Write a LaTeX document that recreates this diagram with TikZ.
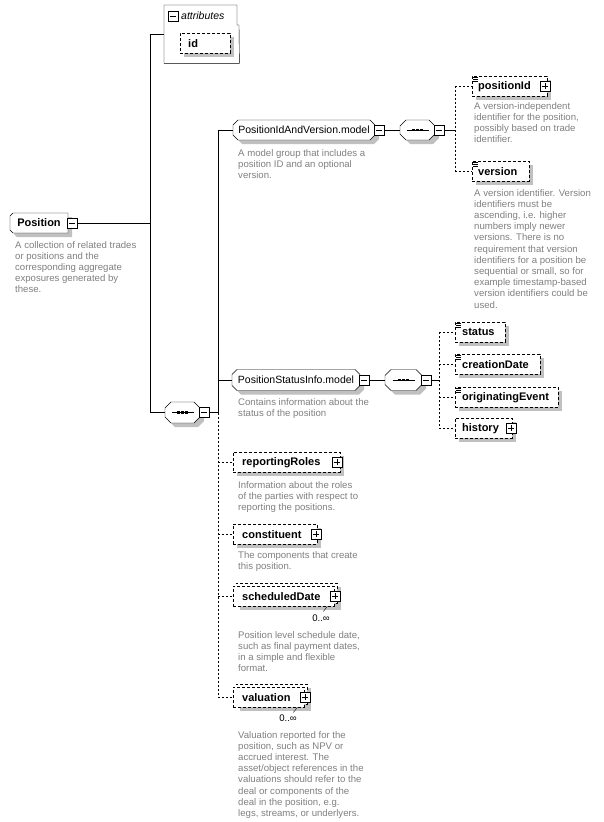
\documentclass[tikz,border=0pt]{standalone}
\usepackage{fontspec}
\setmainfont{Liberation Sans}
\definecolor{descgray}{RGB}{128,128,128}
\definecolor{shadowgray}{RGB}{192,192,192}
\newcommand{\simpicon}[1]{\foreach \k in {1,3,5}{\draw[line width=0.7pt] ([xshift=0.8pt,yshift=-\k pt]#1.north west) -- ++(5.5,0);}}
\newcommand{\octpath}[5]{(#1-#3/2+#5,#2-#4/2) -- (#1+#3/2-#5,#2-#4/2) -- (#1+#3/2,#2-#4/2+#5) -- (#1+#3/2,#2+#4/2-#5) -- (#1+#3/2-#5,#2+#4/2) -- (#1-#3/2+#5,#2+#4/2) -- (#1-#3/2,#2+#4/2-#5) -- (#1-#3/2,#2-#4/2+#5) -- cycle}
\newcommand{\octshape}[5]{\fill[shadowgray] \octpath{#1+4}{#2+4}{#3}{#4}{#5};\draw[fill=white] \octpath{#1}{#2}{#3}{#4}{#5};}
\newcommand{\eshadow}[4]{\fill[shadowgray] (#1+4,#2+4) rectangle (#1+#3+4,#2+#4+4);}
\newcommand{\seqicon}[1]{\draw[line width=0.8pt] ([xshift=-11pt]#1.center) -- ([xshift=11pt]#1.center);
  \foreach \dx in {-4,0,4}{\fill ([xshift=\dx pt]#1.center) ++(-1.3,-1.3) rectangle ++(2.6,2.6);}}
\begin{document}
\begin{tikzpicture}[x=1pt,y=-1pt,
 elem/.style={rectangle,draw,dash pattern=on 3pt off 2pt,fill=white,minimum height=20pt,inner sep=0pt,anchor=north west},
 ename/.style={font=\bfseries\fontsize{11}{13}\selectfont,inner sep=0pt,anchor=west},
 gbox/.style={rectangle,minimum height=20pt,inner sep=0pt,font=\fontsize{10.5}{13}\selectfont},
 boxb/.style={rectangle,draw,solid,fill=white,minimum size=10pt,inner sep=0pt},
 minusb/.style={boxb,path picture={\draw ([xshift=2pt]path picture bounding box.west) -- ([xshift=-2pt]path picture bounding box.east);}},
 plusb/.style={boxb,path picture={\draw ([xshift=2pt]path picture bounding box.west) -- ([xshift=-2pt]path picture bounding box.east);
   \draw ([yshift=-2pt]path picture bounding box.north) -- ([yshift=2pt]path picture bounding box.south);}},
 desc/.style={font=\fontsize{9.6}{11.2}\selectfont,text=descgray,align=left,anchor=north west,inner sep=0pt},
 dsh/.style={dash pattern=on 2pt off 2pt},
 mult/.style={font=\fontsize{9.6}{11}\selectfont,inner sep=0pt,anchor=north east}
]
\fill[white] (0,0) rectangle (603,822);
\useasboundingbox (0,0) rectangle (603,822);

% attributes
\path node[minimum width=75pt,minimum height=58pt,inner sep=0pt,anchor=north west] (attr) at (164,5) {};
\draw (attr.north west) -- ++(73,0) -- ++(0,20) -- ++(2,0) -- (attr.south east) -- (attr.south west) -- cycle;
\node[minusb] (attrm) at (173,16.5) {};
\node[font=\itshape\fontsize{10.5}{13}\selectfont,inner sep=0pt,anchor=west] (attrt) at (181,16) {attributes};
\eshadow{180}{33}{50}{20}
\node[elem,minimum width=50pt] (id) at (180,33) {};
\node[ename] (idt) at ([xshift=8pt]id.west) {id};

% Position
\fill[shadowgray] (17,217) -- (72,217) -- (72,237) -- (17,237) -- (14,234) -- (14,220) -- cycle;
\draw[fill=white] (13,213) -- (68,213) -- (68,233) -- (13,233) -- (10,230) -- (10,216) -- cycle;
\node[gbox,minimum width=58pt,font=\bfseries\fontsize{11}{13}\selectfont] (pos) at (39,223) {Position};
\node[minusb] (posm) at ([xshift=4pt]pos.east) {};
\node[desc] (posd) at (15,241) {A collection of related trades\\or positions and the\\corresponding aggregate\\exposures generated by\\these.};

% main sequence
\octshape{182.5}{412.5}{35}{21}{6}
\node[gbox,minimum width=35pt,minimum height=21pt] (mseq) at (182.5,412.5) {};
\seqicon{mseq}
\node[minusb] (mseqm) at ([xshift=4pt]mseq.east) {};

% PositionIdAndVersion.model
\octshape{304}{130}{142}{20}{5}
\node[gbox,minimum width=142pt] (piv) at (304,130) {PositionIdAndVersion.model};
\node[minusb] (pivm) at ([xshift=4pt]piv.east) {};
\node[desc] (pivd) at (238,149) {A model group that includes a\\position ID and an optional\\version.};
\octshape{417.5}{130}{35}{20}{6}
\node[gbox,minimum width=35pt] (s1) at (417.5,130) {};
\seqicon{s1}
\node[minusb] (s1m) at ([xshift=4pt]s1.east) {};

\eshadow{472}{76}{75}{20}
\node[elem,minimum width=75pt] (pid) at (472,76) {};
\node[ename] (pidt) at ([xshift=6pt]pid.west) {positionId};
\node[plusb] (pidp) at ([xshift=-2pt]pid.east) {};
\simpicon{pid}
\node[desc] (pidd) at (474,102) {A version-independent\\identifier for the position,\\possibly based on trade\\identifier.};

\eshadow{472}{161}{57}{20}
\node[elem,minimum width=57pt] (ver) at (472,161) {};
\node[ename] (vert) at ([xshift=6pt]ver.west) {version};
\simpicon{ver}
\node[desc] (verd) at (474,189) {A version identifier. Version\\identifiers must be\\ascending, i.e. higher\\numbers imply newer\\versions. There is no\\requirement that version\\identifiers for a position be\\sequential or small, so for\\example timestamp-based\\version identifiers could be\\used.};

% PositionStatusInfo.model
\octshape{296}{380}{128}{21}{5}
\node[gbox,minimum width=128pt,minimum height=21pt] (psi) at (296,380) {PositionStatusInfo.model};
\node[minusb] (psim) at ([xshift=4pt]psi.east) {};
\node[desc] (psid) at (238,398) {Contains information about the\\status of the position};
\octshape{403.5}{380}{37}{21}{6}
\node[gbox,minimum width=37pt,minimum height=21pt] (s2) at (403.5,380) {};
\seqicon{s2}
\node[minusb] (s2m) at ([xshift=4pt]s2.east) {};

\eshadow{455}{322}{50}{20}
\node[elem,minimum width=50pt] (st) at (455,322) {};
\node[ename] (stt) at ([xshift=7pt]st.west) {status};
\simpicon{st}
\eshadow{455}{354}{85}{20}
\node[elem,minimum width=85pt] (cd) at (455,354) {};
\node[ename] (cdt) at ([xshift=7pt]cd.west) {creationDate};
\simpicon{cd}
\eshadow{455}{387}{103}{20}
\node[elem,minimum width=103pt] (oe) at (455,387) {};
\node[ename] (oet) at ([xshift=7pt]oe.west) {originatingEvent};
\simpicon{oe}
\eshadow{455}{418}{57}{20}
\node[elem,minimum width=57pt] (hi) at (455,418) {};
\node[ename] (hit) at ([xshift=7pt]hi.west) {history};
\node[plusb] (hip) at ([xshift=-1pt]hi.east) {};

% other children
\eshadow{233}{452}{107}{20}
\node[elem,minimum width=107pt] (rr) at (233,452) {};
\node[ename] (rrt) at ([xshift=9pt]rr.west) {reportingRoles};
\node[plusb] (rrp) at ([xshift=-3pt]rr.east) {};
\node[desc] (rrd) at (238,481) {Information about the roles\\of the parties with respect to\\reporting the positions.};

\eshadow{233}{524}{84}{20}
\node[elem,minimum width=84pt] (co) at (233,524) {};
\node[ename] (cot) at ([xshift=9pt]co.west) {constituent};
\node[plusb] (cop) at ([xshift=-1pt]co.east) {};
\node[desc] (cod) at (238,551) {The components that create\\this position.};

\eshadow{236}{583}{101}{23}
\node[elem,minimum width=101pt] (sdb) at (236,583) {};
\node[elem,minimum width=101pt] (sd) at (233,586) {};
\node[ename] (sdt) at ([xshift=9pt]sd.west) {scheduledDate};
\node[plusb] (sdp) at ([xshift=1pt]sd.east) {};
\node[mult] (sdm) at (330,615) {0..∞};
\draw ([xshift=-7pt]sd.south east) -- ++(-4,5);
\node[desc] (sdd) at (238,631) {Position level schedule date,\\such as final payment dates,\\in a simple and flexible\\format.};

\eshadow{236}{684}{71}{23}
\node[elem,minimum width=71pt] (vab) at (236,684) {};
\node[elem,minimum width=71pt] (va) at (233,687) {};
\node[ename] (vat) at ([xshift=9pt]va.west) {valuation};
\node[plusb] (vap) at ([xshift=1pt]va.east) {};
\node[mult] (vam) at (297,715) {0..∞};
\draw ([xshift=-7pt]va.south east) -- ++(-4,5);
\node[desc] (vad) at (238,731) {Valuation reported for the\\position, such as NPV or\\accrued interest. The\\asset/object references in the\\valuations should refer to the\\deal or components of the\\deal in the position, e.g.\\legs, streams, or underlyers.};

% connectors
\coordinate (T) at (150,0);
\coordinate (U) at (218,0);
\coordinate (V) at (455,0);
\coordinate (W) at (439,0);
\draw (attr.west) -- (T |- attr.west);
\draw (T |- attr.west) -- (T |- mseq.west);
\draw (posm.east) -- (T |- posm.east);
\draw (T |- mseq.west) -- (mseq.west);
\draw (mseqm.east) -- (U |- mseqm.east);
\draw (U |- piv.west) -- (U |- mseqm.east);
\draw (U |- piv.west) -- (piv.west);
\draw (U |- psi.west) -- (psi.west);
\draw[dsh] (U |- mseqm.east) -- (U |- va.west);
\draw[dsh] (U |- rr.west) -- (rr.west);
\draw[dsh] (U |- co.west) -- (co.west);
\draw[dsh] (U |- sd.west) -- (sd.west);
\draw[dsh] (U |- va.west) -- (va.west);
\draw (pivm.east) -- (s1.west);
\draw (s1m.east) -- (V |- s1m.east);
\draw[dsh] (V |- pid.west) -- (V |- ver.west);
\draw[dsh] (V |- pid.west) -- (pid.west);
\draw[dsh] (V |- ver.west) -- (ver.west);
\draw (psim.east) -- (s2.west);
\draw (s2m.east) -- (W |- s2m.east);
\draw[dsh] (W |- st.west) -- (W |- hi.west);
\draw[dsh] (W |- st.west) -- (st.west);
\draw[dsh] (W |- cd.west) -- (cd.west);
\draw[dsh] (W |- oe.west) -- (oe.west);
\draw[dsh] (W |- hi.west) -- (hi.west);
\end{tikzpicture}
\end{document}
